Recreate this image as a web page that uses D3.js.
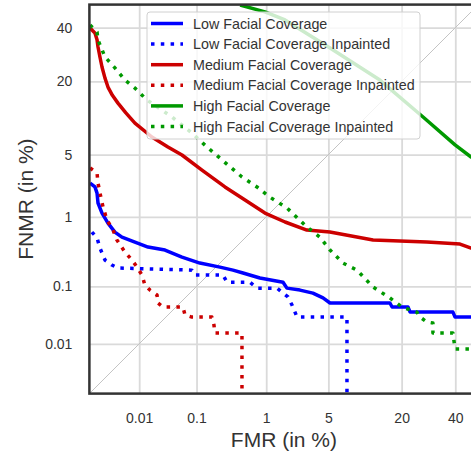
<!DOCTYPE html>
<html>
<head>
<meta charset="utf-8">
<script src="https://cdn.jsdelivr.net/npm/d3@7"></script>
<style>
  body { margin: 0; background: #fff; }
  svg { display: block; font-family: "Liberation Sans", Arial, sans-serif; }
</style>
</head>
<body>
<svg width="471" height="453"></svg>
<script>
// tick values (in %)
var ticks = [0.01, 0.1, 1, 5, 20, 40];

// [FMR %, FNMR %] pairs
var lowFacial = [[0.00103,2.52],[0.00131,2.28],[0.00145,1.94],[0.00152,1.48],[0.00184,1.115],[0.00244,0.83],[0.00337,0.632],[0.00465,0.54],[0.0083,0.462],[0.0146,0.393],[0.0295,0.356],[0.0577,0.282],[0.113,0.23],[0.23,0.2],[0.356,0.18],[0.493,0.163],[0.83,0.136],[1.61,0.117],[1.79,0.094],[2.52,0.0874],[3.48,0.078],[4.42,0.065],[5.19,0.0534],[16.6,0.0534],[17.2,0.0457],[22.0,0.0457],[22.7,0.0374],[39.0,0.0374],[39.9,0.0306],[50,0.0306]];
var lowInpainted = [[0.00113,0.632],[0.00145,0.525],[0.00167,0.38],[0.00212,0.255],[0.00293,0.215],[0.00388,0.194],[0.084,0.18],[0.094,0.151],[0.255,0.151],[0.292,0.117],[0.612,0.117],[0.76,0.094],[1.36,0.094],[1.84,0.0674],[2.05,0.0494],[2.34,0.0306],[7.48,0.0306],[7.48,0.0001]];
var mediumFacial = [[0.00103,39.9],[0.00131,37.8],[0.00145,35.0],[0.00152,32.1],[0.00168,28.0],[0.00184,24.7],[0.00212,21.0],[0.00244,18.3],[0.00300,16.0],[0.00388,14.0],[0.0055,11.8],[0.0083,9.7],[0.0172,7.33],[0.0332,5.93],[0.0577,4.96],[0.122,3.48],[0.273,2.28],[0.525,1.61],[0.964,1.115],[1.70,0.857],[3.0,0.672],[5.17,0.632],[12.4,0.493],[28.6,0.462],[42.0,0.433],[46.8,0.38],[50,0.357]];
var mediumInpainted = [[0.00103,3.66],[0.00145,3.24],[0.00152,2.52],[0.00167,1.94],[0.00193,1.33],[0.00233,0.91],[0.00309,0.672],[0.0037,0.493],[0.00533,0.333],[0.0073,0.255],[0.0091,0.2],[0.0113,0.151],[0.0128,0.105],[0.0159,0.0874],[0.0213,0.0726],[0.0222,0.0534],[0.0271,0.0457],[0.0598,0.0457],[0.065,0.0332],[0.084,0.0306],[0.174,0.0306],[0.187,0.0222],[0.193,0.0159],[0.477,0.0159],[0.477,0.0001]];
var highFacial = [[0.45,49.8],[0.964,46.8],[1.70,43.3],[5.19,31.7],[14.0,20.4],[27.2,10.9],[39.9,6.2],[46.8,4.73],[50,4.32]];
var highInpainted = [[0.00103,41.1],[0.00145,38.2],[0.00152,34.9],[0.00212,28.3],[0.00337,24.4],[0.00533,20.4],[0.0083,18.0],[0.0139,14.8],[0.039,10.9],[0.084,7.96],[0.146,5.93],[0.302,3.93],[0.477,2.94],[0.76,2.28],[1.11,1.74],[1.79,1.29],[3.0,0.74],[4.11,0.54],[5.19,0.356],[6.88,0.23],[9.16,0.18],[12.4,0.098],[16.6,0.065],[20.1,0.0457],[25.0,0.0374],[26.1,0.0307],[28.6,0.0251],[30.9,0.0241],[30.9,0.0159],[39.0,0.0159],[39.9,0.00797],[50,0.008]];

var seriesNames = ["Low Facial Coverage", "Low Facial Coverage Inpainted", "Medium Facial Coverage",
                   "Medium Facial Coverage Inpainted", "High Facial Coverage", "High Facial Coverage Inpainted"];
var seriesData = [lowFacial, lowInpainted, mediumFacial, mediumInpainted, highFacial, highInpainted];
var seriesColors = ["#0000ff", "#0000ff", "#cc0000", "#cc0000", "#009900", "#009900"];
var seriesDotted = [false, true, false, true, false, true];

// inverse normal cdf (Acklam)
function probit(p) {
  var a = [-3.969683028665376e+01, 2.209460984245205e+02, -2.759285104469687e+02, 1.383577518672690e+02, -3.066479806614716e+01, 2.506628277459239e+00];
  var b = [-5.447609879822406e+01, 1.615858368580409e+02, -1.556989798598866e+02, 6.680131188771972e+01, -1.328068155288572e+01];
  var c = [-7.784894002430293e-03, -3.223964580411365e-01, -2.400758277161838e+00, -2.549732539343734e+00, 4.374664141464968e+00, 2.938163982698783e+00];
  var d = [7.784695709041462e-03, 3.224671290700398e-01, 2.445134137142996e+00, 3.754408661907416e+00];
  var plow = 0.02425, q, r;
  if (p < plow) {
    q = Math.sqrt(-2 * Math.log(p));
    return (((((c[0]*q+c[1])*q+c[2])*q+c[3])*q+c[4])*q+c[5]) / ((((d[0]*q+d[1])*q+d[2])*q+d[3])*q+1);
  }
  if (p <= 1 - plow) {
    q = p - 0.5; r = q * q;
    return (((((a[0]*r+a[1])*r+a[2])*r+a[3])*r+a[4])*r+a[5])*q / (((((b[0]*r+b[1])*r+b[2])*r+b[3])*r+b[4])*r+1);
  }
  q = Math.sqrt(-2 * Math.log(1 - p));
  return -(((((c[0]*q+c[1])*q+c[2])*q+c[3])*q+c[4])*q+c[5]) / ((((d[0]*q+d[1])*q+d[2])*q+d[3])*q+1);
}

var svg = d3.select("svg"),
    margin = {top: 4.6, left: 89.4},
    width = 389,
    height = 389,
    g = svg.append("g").attr("transform", "translate(" + margin.left + "," + margin.top + ")");

// probit scales, domain 0.001% .. 50%
var zmin = probit(0.00001);
var x = d3.scaleLinear().domain([zmin, 0]).range([0, width]),
    y = d3.scaleLinear().domain([zmin, 0]).range([height, 0]);
var px = function(v) { return x(probit(v / 100)); },
    py = function(v) { return y(probit(v / 100)); };

g.append("clipPath").attr("id", "clip")
  .append("rect").attr("width", width).attr("height", height);

// grid + tick labels
var tickZ = ticks.map(function(t) { return probit(t / 100); });
var label = function(z) { return ticks[tickZ.indexOf(z)]; };

g.append("g")
    .attr("transform", "translate(0," + height + ")")
    .call(d3.axisBottom(x).tickValues(tickZ).tickSize(-height).tickPadding(19).tickFormat(label))
    .call(function(a) {
      a.select(".domain").remove();
      a.selectAll("line").attr("stroke", "#dadada").attr("stroke-width", 1.8);
      a.selectAll("text").attr("fill", "#333").style("font-size", "14px");
    });

g.append("g")
    .call(d3.axisLeft(y).tickValues(tickZ).tickSize(-width).tickPadding(17).tickFormat(label))
    .call(function(a) {
      a.select(".domain").remove();
      a.selectAll("line").attr("stroke", "#dadada").attr("stroke-width", 1.8);
      a.selectAll("text").attr("fill", "#333").style("font-size", "14px");
    });

// diagonal
var line = d3.line()
    .x(function(d) { return px(d[0]); })
    .y(function(d) { return py(d[1]); });

g.append("path")
    .attr("clip-path", "url(#clip)")
    .attr("d", line([[0.001, 0.001], [50, 50]]))
    .attr("fill", "none")
    .attr("stroke", "#c4c4c4")
    .attr("stroke-width", 1);

// curves
seriesData.forEach(function(s, i) {
  g.append("path")
      .attr("clip-path", "url(#clip)")
      .attr("d", line(s))
      .attr("fill", "none")
      .attr("stroke", seriesColors[i])
      .attr("stroke-width", 3.5)
      .attr("stroke-linejoin", "round")
      .attr("stroke-dasharray", seriesDotted[i] ? "3.5,6.3" : null);
});

// frame
g.append("rect")
    .attr("width", width).attr("height", height)
    .attr("fill", "none")
    .attr("stroke", "#333")
    .attr("stroke-width", 2.5);

// axis labels
svg.append("text")
    .attr("x", margin.left + width / 2)
    .attr("y", 447)
    .attr("text-anchor", "middle")
    .attr("fill", "#333")
    .style("font-size", "21px")
    .text("FMR (in %)");

svg.append("text")
    .attr("transform", "translate(33," + (margin.top + height / 2) + ") rotate(-90)")
    .attr("text-anchor", "middle")
    .attr("fill", "#333")
    .style("font-size", "21px")
    .text("FNMR (in %)");

// legend
var legend = svg.append("g").attr("transform", "translate(147,12)");
legend.append("rect")
    .attr("width", 273).attr("height", 127)
    .attr("rx", 3)
    .attr("fill", "#fff").attr("fill-opacity", 0.8)
    .attr("stroke", "#d0d0d0").attr("stroke-width", 1);

var item = legend.selectAll(".item")
  .data(seriesNames)
  .enter().append("g")
    .attr("class", "item")
    .attr("transform", function(d, i) { return "translate(0," + (11.5 + i * 20.6) + ")"; });

item.append("line")
    .attr("x1", 4).attr("x2", 36)
    .attr("stroke", function(d, i) { return seriesColors[i]; })
    .attr("stroke-width", 3.5)
    .attr("stroke-dasharray", function(d, i) { return seriesDotted[i] ? "3.5,6.3" : null; });

item.append("text")
    .attr("x", 46)
    .attr("dy", "0.35em")
    .attr("fill", "#333")
    .style("font-size", "14.3px")
    .text(function(d) { return d; });
</script>
</body>
</html>
